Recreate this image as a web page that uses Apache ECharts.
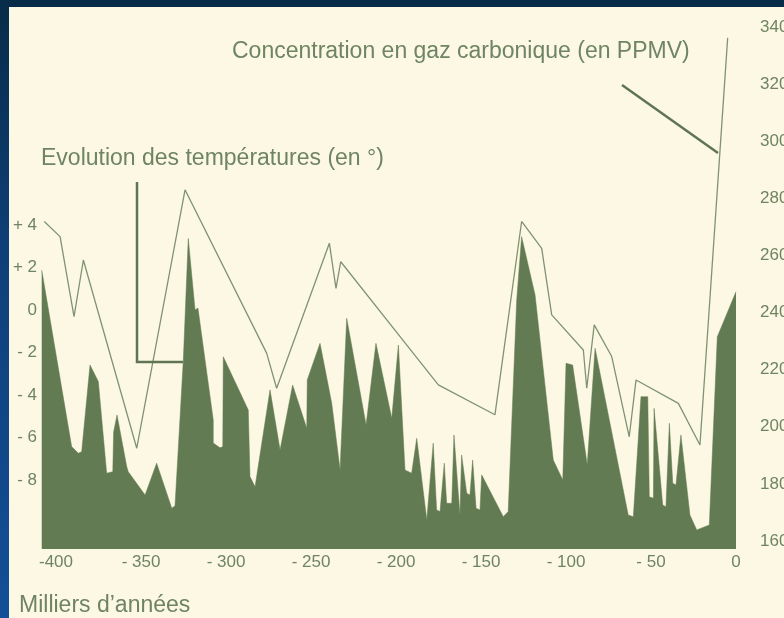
<!DOCTYPE html>
<html>
<head>
<meta charset="utf-8">
<script src="https://cdn.jsdelivr.net/npm/echarts@6/dist/echarts.min.js"></script>
<style>
html,body{margin:0;padding:0;background:#0d3a6e;}
#c{width:784px;height:618px;}
</style>
</head>
<body>
<div id="c"></div>
<script>
// Temperature anomaly (°C) — x in thousands of years
const tempYears = [-408.4,-390.8,-386.9,-384.9,-380.0,-375.1,-370.2,-366.6,-366.1,-364.1,-358.4,-357.5,-347.6,-340.8,-331.9,-330.0,-325.1,-322.2,-318.2,-316.5,-307.5,-307.5,-303.5,-301.9,-301.6,-286.9,-285.9,-282.9,-274.1,-268.2,-260.8,-252.5,-252.2,-244.7,-237.8,-232.9,-229.0,-217.6,-211.8,-202.5,-198.6,-194.7,-190.8,-187.8,-181.9,-178.1,-176.1,-174.1,-171.6,-170.2,-167.2,-165.9,-162.4,-161.4,-158.4,-156.5,-154.9,-152.9,-150.6,-149.6,-136.9,-134.0,-129.0,-126.1,-118.2,-107.5,-101.9,-100.0,-96.1,-87.5,-82.9,-63.4,-60.4,-55.9,-51.9,-51.0,-48.6,-48.2,-43.1,-41.2,-39.2,-37.2,-35.3,-32.4,-27.1,-23.1,-15.7,-11.0,0];
const tempValues = [1.88,-6.43,-6.74,-6.67,-2.59,-3.37,-7.68,-7.61,-5.74,-4.94,-7.37,-7.61,-8.71,-7.21,-9.33,-9.22,-2.35,3.37,0.0,0.09,-5.18,-6.26,-6.49,-6.43,-2.2,-4.71,-7.84,-8.32,-3.76,-6.59,-3.53,-5.57,-3.29,-1.57,-4.39,-7.53,-0.39,-5.41,-1.57,-5.10,-1.65,-7.53,-7.68,-6.04,-9.88,-6.27,-9.41,-9.49,-7.21,-9.10,-9.10,-5.88,-9.65,-6.82,-8.63,-8.71,-7.06,-9.33,-9.41,-7.76,-9.73,-9.49,0.47,3.45,0.71,-7.06,-8.0,-2.51,-2.59,-7.29,-1.80,-9.65,-9.73,-4.08,-4.08,-8.79,-8.86,-4.63,-9.18,-9.26,-5.33,-8.16,-8.24,-5.88,-9.65,-10.35,-10.12,-1.26,0.86];

// CO2 concentration (ppmv)
const co2Years = [-406.9,-397.6,-389.4,-383.9,-352.5,-324.1,-276.1,-270.2,-239.2,-235.3,-232.5,-197.6,-175.1,-141.8,-126.1,-114.3,-108.4,-89.8,-87.8,-83.4,-73.1,-62.8,-58.8,-33.9,-21.2,-4.9];
const co2Values = [271.9,266.6,238.6,258.4,192.5,283.0,225.8,213.5,264.3,248.5,257.8,231.6,214.7,204.2,271.9,262.5,239.2,226.9,213.5,235.7,224.6,196.5,216.4,208.2,193.6,336.2];

// Tick labels
const xTicks = [-400,-350,-300,-250,-200,-150,-100,-50,0];
const tempTicks = [-8,-6,-4,-2,0,2,4];
const co2Ticks = [160,180,200,220,240,260,280,300,320,340];

const TXT = '#6e8462';
const FILL = '#637b52';
const LINE = '#7f9371';
const FONT = '"Liberation Sans", Arial, sans-serif';

const chart = echarts.init(document.getElementById('c'));
chart.setOption({
  animation: false,
  backgroundColor: {
    type: 'linear', x: 0, y: 0, x2: 0, y2: 1,
    colorStops: [{offset: 0, color: '#072c48'}, {offset: 0.4, color: '#0f3f78'}, {offset: 1, color: '#134f98'}]
  },
  grid: {left: 39, right: 48, top: 27, bottom: 69, containLabel: false, outerBoundsMode: 'none'},
  xAxis: {
    type: 'value', min: -410, max: 0,
    axisLine: {show: false}, axisTick: {show: false}, splitLine: {show: false},
    axisLabel: {
      customValues: xTicks, margin: 5,
      color: TXT, fontSize: 17, fontFamily: FONT,
      formatter: v => v === 0 ? '0' : (v === -400 ? '-400' : '- ' + Math.abs(v))
    }
  },
  yAxis: [{
    type: 'value', min: -11.25, max: 13.32, position: 'left',
    axisLine: {show: false}, axisTick: {show: false}, splitLine: {show: false},
    axisLabel: {
      customValues: tempTicks, margin: 2,
      color: TXT, fontSize: 17, fontFamily: FONT,
      formatter: v => v > 0 ? '+ ' + v : (v < 0 ? '- ' + Math.abs(v) : '0')
    }
  }, {
    type: 'value', min: 157.2, max: 340, position: 'right',
    axisLine: {show: false}, axisTick: {show: false}, splitLine: {show: false},
    axisLabel: {
      customValues: co2Ticks, margin: 24,
      color: TXT, fontSize: 17, fontFamily: FONT
    }
  }],
  graphic: [
    {type: 'rect', shape: {x: 9, y: 7, width: 775, height: 611}, style: {fill: '#fdf8e3'}, z: -10, silent: true},
    {type: 'text', x: 232, y: 52, z: 10, style: {text: 'Concentration en gaz carbonique (en PPMV)', fill: TXT, font: '23px ' + FONT, textVerticalAlign: 'middle'}},
    {type: 'text', x: 41, y: 159, z: 10, style: {text: 'Evolution des températures (en °)', fill: TXT, font: '23px ' + FONT, textVerticalAlign: 'middle'}},
    {type: 'text', x: 19, y: 606, z: 10, style: {text: 'Milliers d\u2019années', fill: TXT, font: '23px ' + FONT, textVerticalAlign: 'middle'}},
    {type: 'polyline', z: 10, shape: {points: [[622, 85], [718, 153]]}, style: {stroke: '#5f7452', lineWidth: 2.5, fill: null}},
    {type: 'polyline', z: 10, shape: {points: [[137, 182], [137, 362], [183, 362]]}, style: {stroke: '#5f7452', lineWidth: 2.5, fill: null}}
  ],
  series: [{
    type: 'line', xAxisIndex: 0, yAxisIndex: 0,
    data: tempYears.map((x, i) => [x, tempValues[i]]),
    symbol: 'none', lineStyle: {width: 0.5, color: FILL},
    areaStyle: {color: FILL, opacity: 1, origin: 'start'}, z: 2
  }, {
    type: 'line', xAxisIndex: 0, yAxisIndex: 1,
    data: co2Years.map((x, i) => [x, co2Values[i]]),
    symbol: 'none', lineStyle: {width: 1.3, color: LINE}, z: 3
  }]
});
</script>
</body>
</html>
